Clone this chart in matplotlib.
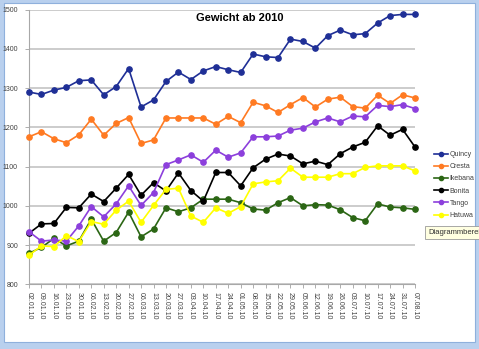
import matplotlib.pyplot as plt
import matplotlib as mpl
from matplotlib.patches import Rectangle

mpl.rcParams['font.family'] = ['Liberation Sans', 'DejaVu Sans']

# weekly dates
dates = ['02.01.10', '09.01.10', '16.01.10', '23.01.10', '30.01.10', '06.02.10',
         '13.02.10', '20.02.10', '27.02.10', '06.03.10', '13.03.10', '20.03.10',
         '27.03.10', '03.04.10', '10.04.10', '17.04.10', '24.04.10', '01.05.10',
         '08.05.10', '15.05.10', '22.05.10', '29.05.10', '05.06.10', '12.06.10',
         '19.06.10', '26.06.10', '03.07.10', '10.07.10', '17.07.10', '24.07.10',
         '31.07.10', '07.08.10']

quincy = [1290, 1284, 1295, 1302, 1319, 1321, 1283, 1304, 1350, 1252, 1270, 1317,
          1341, 1322, 1344, 1355, 1347, 1340, 1387, 1380, 1378, 1425, 1419, 1402,
          1434, 1448, 1436, 1439, 1466, 1485, 1488, 1488]
cresta = [1176, 1189, 1171, 1161, 1181, 1221, 1180, 1210, 1225, 1159, 1168, 1224,
          1224, 1224, 1224, 1208, 1228, 1212, 1264, 1255, 1238, 1258, 1276, 1252,
          1272, 1277, 1253, 1249, 1282, 1261, 1283, 1275]
ikebana = [879, 894, 917, 898, 910, 966, 910, 932, 984, 921, 941, 995,
           985, 995, 1017, 1017, 1017, 1008, 992, 989, 1008, 1021, 1000, 1003,
           1002, 990, 970, 962, 1005, 997, 995, 991]
bonita = [930, 954, 955, 996, 995, 1030, 1011, 1045, 1080, 1027, 1059, 1038,
          1084, 1039, 1012, 1085, 1085, 1051, 1097, 1119, 1132, 1127, 1107, 1114,
          1105, 1133, 1150, 1162, 1204, 1180, 1195, 1150]
tango = [934, 910, 913, 910, 949, 998, 972, 1005, 1051, 1001, 1034, 1105,
         1117, 1130, 1111, 1142, 1124, 1135, 1176, 1176, 1178, 1193, 1198, 1214,
         1224, 1214, 1229, 1227, 1256, 1253, 1258, 1248]
hatuwa = [874, 898, 896, 924, 909, 960, 953, 989, 1012, 958, 1001, 1042,
          1045, 974, 958, 995, 981, 998, 1056, 1061, 1064, 1096, 1073, 1073,
          1073, 1082, 1082, 1098, 1102, 1102, 1102, 1089]

names = ['Quincy', 'Cresta', 'Ikebana', 'Bonita', 'Tango', 'Hatuwa']
series = [quincy, cresta, ikebana, bonita, tango, hatuwa]
colors = ['#1f2f96', '#ff7a22', '#2b6614', '#000000', '#8c3fdc', '#ffff00']

W, H = 479, 349
fig = plt.figure(figsize=(W / 100, H / 100), dpi=100)
fig.patch.set_facecolor('#b9d0ee')

# window frame of the chart object
fig.patches.append(Rectangle((4 / W, 7 / H), 471 / W, 339 / H, transform=fig.transFigure,
                             facecolor='white', edgecolor='#8fb0dc', linewidth=0.8, zorder=-5))

ax = fig.add_axes([29 / W, (H - 284.3) / H, (415 - 29) / W, (284.3 - 9.7) / H])
ax.set_facecolor('none')
ax.set_zorder(2)

x = list(range(len(dates)))
for name, vals, c in zip(names, series, colors):
    ax.plot(x, vals, color=c, linewidth=1.2, marker='o', markersize=3.8,
            label=name, zorder=3, clip_on=False)

ax.set_xlim(0, len(dates) - 1)
ax.set_ylim(800, 1500)
ax.set_yticks(range(800, 1501, 100))
ax.set_xticks(x)
ax.set_xticklabels(dates, rotation=270, fontsize=5, color='#404040')
ax.tick_params(axis='y', labelsize=5, colors='#404040', length=3, width=0.6, pad=5, color='#a0a0a0')
ax.tick_params(axis='x', length=3, width=0.6, pad=2.5, color='#a0a0a0')
ax.grid(axis='y', color='#c4c4c4', linewidth=1.2, zorder=0)
for s in ['top', 'right']:
    ax.spines[s].set_visible(False)
for s in ['left', 'bottom']:
    ax.spines[s].set_color('#a8a8a8')
    ax.spines[s].set_linewidth(0.8)

fig.text(240 / W, (H - 18) / H, 'Gewicht ab 2010', ha='center', va='center',
         fontsize=8, fontweight='bold')

fig.legend(loc='center left', bbox_to_anchor=(431 / W, (H - 185) / H), frameon=False,
           fontsize=5, handlelength=2.0, handletextpad=0.2, labelspacing=0.75,
           borderpad=0, markerscale=0.8, labelcolor='#404040')

fig.text(428 / W, (H - 232.5) / H, 'Diagrammbereich', ha='left', va='center', fontsize=5.5,
         color='#303030', zorder=10,
         bbox=dict(boxstyle='square,pad=0.35', facecolor='#ffffe1', edgecolor='#9a9a9a',
                   linewidth=0.6))

fig.savefig('out.png', dpi=100)
